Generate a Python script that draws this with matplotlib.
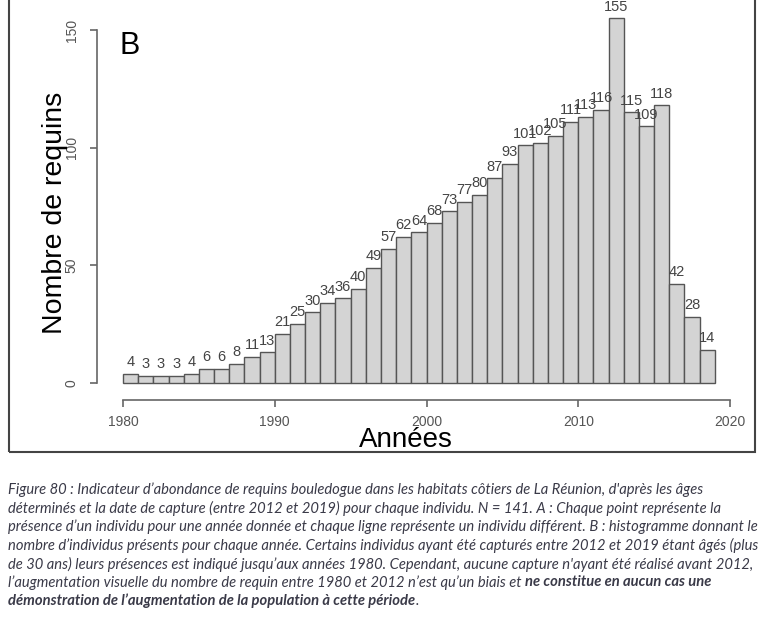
import matplotlib.pyplot as plt
import matplotlib.patches as mpatches

# data
years = list(range(1980, 2019))
counts = [4, 3, 3, 3, 4, 6, 6, 8, 11, 13, 21, 25, 30, 34, 36, 40, 49, 57, 62, 64,
          68, 73, 77, 80, 87, 93, 101, 102, 105, 111, 113, 116, 155, 115, 109, 118,
          42, 28, 14]
xticks = [1980, 1990, 2000, 2010, 2020]
yticks = [0, 50, 100, 150]

caption_lines = [
    "Figure 80 : Indicateur d\u2019abondance de requins bouledogue dans les habitats côtiers de La Réunion, d'après les âges",
    "déterminés et la date de capture (entre 2012 et 2019) pour chaque individu. N = 141. A : Chaque point représente la",
    "présence d\u2019un individu pour une année donnée et chaque ligne représente un individu différent. B : histogramme donnant le",
    "nombre d\u2019individus présents pour chaque année. Certains individus ayant été capturés entre 2012 et 2019 étant âgés (plus",
    "de 30 ans) leurs présences est indiqué jusqu\u2019aux années 1980. Cependant, aucune capture n'ayant été réalisé avant 2012,",
]
caption_l6 = ["l\u2019augmentation visuelle du nombre de requin entre 1980 et 2012 n\u2019est qu\u2019un biais et ",
              "ne constitue en aucun cas une"]
caption_l7 = ["démonstration de l\u2019augmentation de la population à cette période", "."]

W, H = 762, 624
plt.rcParams['font.family'] = ['Liberation Sans', 'DejaVu Sans']
fig = plt.figure(figsize=(W / 100, H / 100), dpi=100)

# axes placed so that 1980->x=123px, 2020->x=730px, 0->y=383px
ymax = 160
px_per_unit = (383 - 30) / 150
top_px = 383 - ymax * px_per_unit
ax = fig.add_axes([123 / W, 1 - 383 / H, (730 - 123) / W, (383 - top_px) / H])
ax.set_xlim(1980, 2020)
ax.set_ylim(0, ymax)

ax.bar(years, counts, width=1, align='edge', color='#d4d4d4',
       edgecolor='#555555', linewidth=1.0, clip_on=False)
for x, c in zip(years, counts):
    ax.text(x + 0.5, c + 2, str(c), ha='center', va='bottom', fontsize=10.5,
            color='#444444', clip_on=False)

grey = '#666666'
for s in ['top', 'right']:
    ax.spines[s].set_visible(False)
ax.spines['left'].set_bounds(0, 150)
ax.spines['left'].set_position(('outward', 19))
ax.spines['bottom'].set_bounds(1980, 2020)
ax.spines['bottom'].set_position(('outward', 12))
for s in ['left', 'bottom']:
    ax.spines[s].set_color(grey)
    ax.spines[s].set_linewidth(1.2)
ax.set_xticks(xticks)
ax.set_yticks(yticks)
ax.set_yticklabels([str(v) for v in yticks], rotation=90, va='center')
ax.tick_params(colors=grey, labelcolor='#555555', length=5, width=1.2, labelsize=10)
ax.tick_params(axis='y', pad=8)
ax.tick_params(axis='x', pad=6)

ax.set_xlabel('Années', fontsize=20)
ax.xaxis.set_label_coords(0.466, -0.118)
ax.set_ylabel('Nombre de requins', fontsize=20.5)
ax.yaxis.set_label_coords(-0.09, 0.452)
ax.text(1979.8, 143, 'B', fontsize=22, ha='left', va='center')

# outer frame around the plot panel
frame = mpatches.Rectangle((9 / W, 1 - 452 / H), (755 - 9) / W, 452 / H + 0.02,
                           transform=fig.transFigure, fill=False,
                           edgecolor='#444444', linewidth=1.5, clip_on=False)
fig.patches.append(frame)

# caption
cap_kw = dict(fontsize=10.6, family=['Lato', 'DejaVu Sans'], style='italic',
              color='#3a3a48', va='center', ha='left')
y0, dy = 490, 18.5
for i, line in enumerate(caption_lines):
    fig.text(8 / W, 1 - (y0 + i * dy) / H, line, **cap_kw)

renderer = fig.canvas.get_renderer()
for i, (normal, bold) in enumerate([(caption_l6[0], caption_l6[1]),
                                    (None, caption_l7[0])]):
    yy = 1 - (y0 + (5 + i) * dy) / H
    if normal:
        t = fig.text(8 / W, yy, normal, **cap_kw)
        xe = t.get_window_extent(renderer).x1 / W
        tb = fig.text(xe, yy, bold, weight='bold', **cap_kw)
    else:
        tb = fig.text(8 / W, yy, bold, weight='bold', **cap_kw)
        xe = tb.get_window_extent(renderer).x1 / W
        fig.text(xe, yy, caption_l7[1], **cap_kw)

fig.savefig('out.png', dpi=100)
